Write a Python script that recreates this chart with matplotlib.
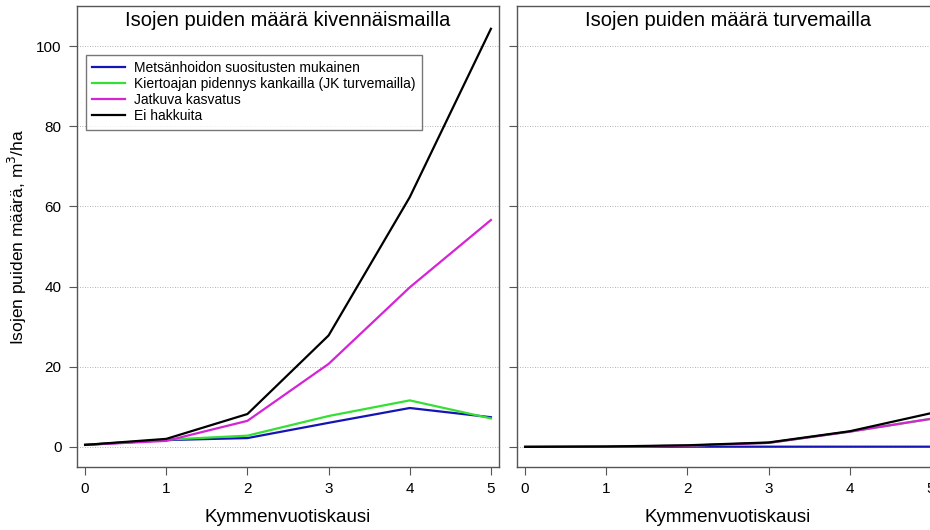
import numpy as np
import matplotlib.pyplot as plt

plt.rcParams['font.family'] = ['Liberation Sans', 'DejaVu Sans']

# Kymmenvuotiskaudet
kaudet = [0, 1, 2, 3, 4, 5]

# Kivennäismaat
kiv_suositus = [0.5, 1.7, 2.2, 6.0, 9.7, 7.4]
kiv_kiertoaika = [0.5, 1.8, 2.8, 7.7, 11.6, 7.1]
kiv_jatkuva = [0.5, 1.5, 6.5, 20.7, 39.8, 56.6]
kiv_ei_hakkuita = [0.5, 2.0, 8.2, 27.8, 62.3, 104.3]

# Turvemaat
tur_suositus = [0.0, 0.0, 0.05, 0.05, 0.05, 0.05]
tur_kiertoaika = [0.0, 0.05, 0.3, 1.0, 3.8, 7.0]
tur_jatkuva = [0.0, 0.05, 0.3, 1.0, 3.8, 7.0]
tur_ei_hakkuita = [0.0, 0.1, 0.4, 1.1, 3.9, 8.4]

nimet = ['Metsänhoidon suositusten mukainen',
         'Kiertoajan pidennys kankailla (JK turvemailla)',
         'Jatkuva kasvatus',
         'Ei hakkuita']
varit = ['#1515b5', '#33e033', '#d424d4', '#000000']

y_ticks = [0, 20, 40, 60, 80, 100]

fig = plt.figure(figsize=(9.3, 5.3), dpi=100)
ax1 = fig.add_axes([0.0828, 0.119, 0.4538, 0.8698])
ax2 = fig.add_axes([0.5559, 0.119, 0.4538, 0.8698])

sarjat = [
    (ax1, [kiv_suositus, kiv_kiertoaika, kiv_jatkuva, kiv_ei_hakkuita],
     'Isojen puiden määrä kivennäismailla'),
    (ax2, [tur_suositus, tur_kiertoaika, tur_jatkuva, tur_ei_hakkuita],
     'Isojen puiden määrä turvemailla'),
]

for ax, arvot, otsikko in sarjat:
    for y in y_ticks:
        ax.axhline(y, color='#9a9a9a', linestyle=(0, (1, 2)), linewidth=0.6, zorder=0)
    for a, nimi, vari in zip(arvot, nimet, varit):
        ax.plot(kaudet, a, color=vari, linewidth=1.6, label=nimi)
    ax.set_xlim(-0.1, 5.1)
    ax.set_ylim(-5, 110)
    ax.set_xticks(kaudet)
    ax.set_yticks(y_ticks)
    ax.tick_params(direction='out', length=6, width=0.8, color='#555555',
                   labelsize=11, pad=5)
    for s in ax.spines.values():
        s.set_color('#555555')
        s.set_linewidth(1.0)
    ax.set_xlabel('Kymmenvuotiskausi', fontsize=13.5, labelpad=9)
    ax.text(0.5, 0.988, otsikko, transform=ax.transAxes, ha='center', va='top',
            fontsize=14.5)

ax2.tick_params(axis='y', labelleft=False)
ax1.set_ylabel('Isojen puiden määrä, m$^3$/ha', fontsize=12.5, labelpad=5)

leg = ax1.legend(loc='upper left', bbox_to_anchor=(0.021, 0.894), borderaxespad=0,
                 fontsize=10, frameon=True, fancybox=False, handlelength=2.4,
                 borderpad=0.45, labelspacing=0.15, handletextpad=0.65)
leg.get_frame().set_edgecolor('#555555')
leg.get_frame().set_linewidth(1.0)

fig.savefig('out.png', dpi=100)
